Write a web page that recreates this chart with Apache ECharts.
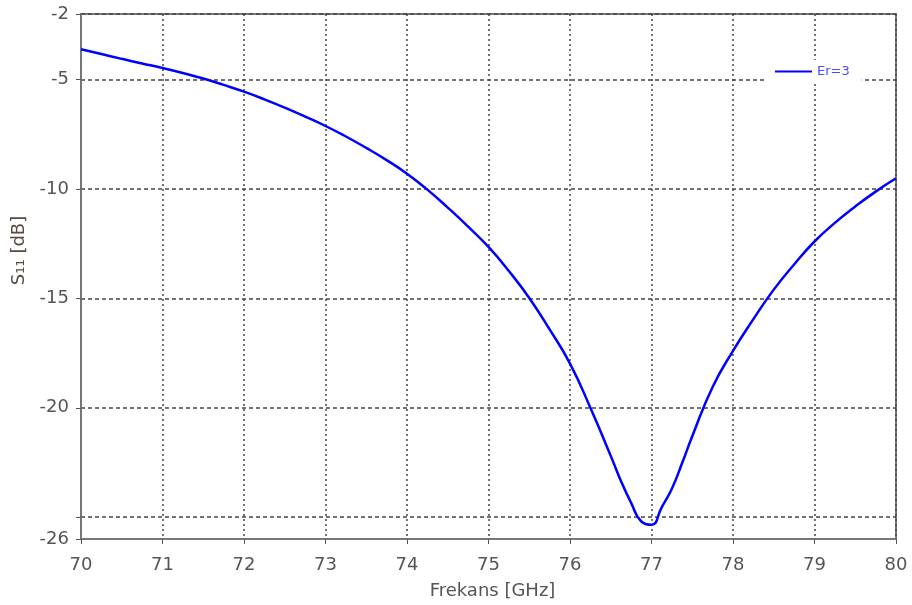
<!DOCTYPE html>
<html>
<head>
<meta charset="utf-8">
<script src="https://cdn.jsdelivr.net/npm/echarts@6/dist/echarts.min.js"></script>
<style>
  html, body { margin: 0; padding: 0; background: #fff; }
  #chart { width: 912px; height: 605px; }
</style>
</head>
<body>
<div id="chart"></div>
<script>
// Reflection coefficient S11 of the Er=3 design over the 70–80 GHz band
const frequencyGHz = [
  70, 70.25, 70.5, 70.75, 71, 71.25, 71.5, 71.75, 72, 72.25, 72.5, 72.75,
  73, 73.25, 73.5, 73.75, 74, 74.25, 74.5, 74.75, 75, 75.25, 75.5, 75.75,
  76, 76.25, 76.5, 76.625, 76.75, 76.875, 77, 77.125, 77.25, 77.375, 77.5,
  77.75, 78, 78.25, 78.5, 78.75, 79, 79.25, 79.5, 79.75, 80
];
const s11dB = [
  -3.61, -3.83, -4.05, -4.26, -4.47, -4.7, -4.95, -5.24, -5.55, -5.9, -6.28, -6.69,
  -7.12, -7.6, -8.12, -8.68, -9.3, -10.03, -10.85, -11.72, -12.65, -13.75, -14.98, -16.42,
  -17.98, -20.0, -22.2, -23.35, -24.35, -25.2, -25.35, -24.55, -23.7, -22.54, -21.3,
  -19.05, -17.4, -15.95, -14.6, -13.45, -12.4, -11.55, -10.8, -10.12, -9.51
];
const seriesName = 'Er=3';
const xTicks = [70, 71, 72, 73, 74, 75, 76, 77, 78, 79, 80];
const yTickValues = [-26, -25, -20, -15, -10, -5, -2];
const yLabelValues = [-26, -20, -15, -10, -5, -2];

const chart = echarts.init(document.getElementById('chart'), null, { renderer: 'canvas' });

const font = 'DejaVu Sans, Verdana, sans-serif';
const frameColor = '#777';
const gridColor = '#444';

chart.setOption({
  animation: false,
  backgroundColor: '#fff',
  grid: {
    left: 81, right: 16, top: 14, bottom: 66,
    outerBoundsMode: 'none',
    containLabel: false,
    show: true,
    borderColor: frameColor,
    borderWidth: 2,
    backgroundColor: 'transparent'
  },
  legend: {
    data: [seriesName],
    left: 765,
    top: 60,
    backgroundColor: '#fff',
    padding: [5, 12, 5, 10],
    itemWidth: 37,
    itemHeight: 2,
    itemGap: 6,
    icon: 'rect',
    textStyle: { color: '#4a4aff', fontSize: 13, fontFamily: font }
  },
  xAxis: {
    type: 'value',
    min: xTicks[0],
    max: xTicks[xTicks.length - 1],
    interval: 1,
    name: 'Frekans [GHz]',
    nameLocation: 'middle',
    nameGap: 43,
    nameTextStyle: { color: '#555', fontSize: 18, fontFamily: font, padding: [0, 0, 0, 8] },
    axisLine: { show: true, lineStyle: { color: frameColor, width: 2 } },
    axisTick: { show: true, length: 5, lineStyle: { color: '#555' } },
    axisLabel: { color: '#555', fontSize: 18, fontFamily: font, margin: 17 },
    splitLine: { show: true, lineStyle: { color: gridColor, width: 1.5, type: [2, 3] } }
  },
  yAxis: {
    type: 'value',
    min: -26,
    max: -2,
    name: 'S\u2081\u2081 [dB]',
    nameLocation: 'middle',
    nameGap: 50,
    nameTextStyle: { color: '#5a4a40', fontSize: 18, fontFamily: font, padding: [0, 0, 0, 52] },
    axisLine: { show: true, lineStyle: { color: frameColor, width: 2 } },
    axisTick: { show: true, length: 5, customValues: yTickValues, lineStyle: { color: '#555' } },
    axisLabel: { color: '#555', fontSize: 18, fontFamily: font, margin: 12, customValues: yLabelValues },
    splitLine: { show: true, lineStyle: { color: gridColor, width: 1.5, type: [4, 3] } }
  },
  series: [{
    name: seriesName,
    type: 'line',
    data: frequencyGHz.map((f, i) => [f, s11dB[i]]),
    smooth: true,
    showSymbol: false,
    lineStyle: { color: '#0000ff', width: 2.5 },
    itemStyle: { color: '#0000ff' }
  }]
});
</script>
</body>
</html>
